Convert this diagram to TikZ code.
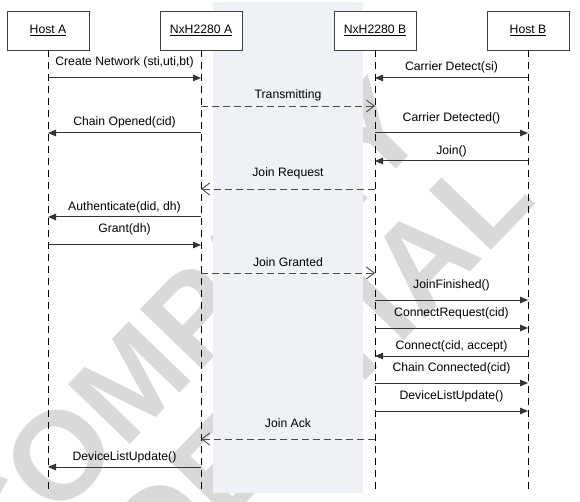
\documentclass[tikz,border=0pt]{standalone}
\usepackage{fontspec}
\setmainfont{Liberation Sans}
\usetikzlibrary{arrows.meta,positioning}
\definecolor{bandblue}{RGB}{238,241,246}
\definecolor{wmgray}{RGB}{217,217,217}

\begin{document}
\begin{tikzpicture}[x=1pt,y=-1pt,
  actor/.style={draw=black!75,line width=0.8pt,fill=white,minimum width=82pt,minimum height=39pt,inner sep=0pt,font=\fontsize{12.2}{14}\selectfont},
  life/.style={black,line width=0.8pt,dash pattern=on 7pt off 5pt},
  call/.style={black!80,line width=1pt,-{Triangle[length=8pt,width=6.5pt]}},
  air/.style={black!70,line width=0.9pt,dash pattern=on 7pt off 4pt,-{Straight Barb[length=8pt,width=12pt]}},
  lbl/.style={font=\fontsize{12.2}{14}\selectfont,inner sep=0pt},
  wmark/.style={wmgray,font=\fontsize{125}{125}\selectfont\bfseries,rotate=46,inner sep=0pt}]
\useasboundingbox (0,0) rectangle (580,502);

% watermark, then the air band on top of it
\node[wmark] (wm1) at (182,329) {COMPANY};
\node[wmark] (wm2) at (184,506) {CONFIDENTIAL};
\fill[bandblue] (213,2) rectangle (363,493);

% actors and lifelines
\node[actor] (hA) at (48,30.5) {\underline{Host A}};
\node[actor] (nA) at (201,30.5) {\underline{NxH2280 A}};
\node[actor] (nB) at (375,30.5) {\underline{NxH2280 B}};
\node[actor] (hB) at (528,30.5) {\underline{Host B}};

\draw[life] (hA.south) -- (hA |- 0,493);
\draw[life] (nA.south) -- (nA |- 0,493);
\draw[life] (nB.south) -- (nB |- 0,493);
\draw[life] (hB.south) -- (hB |- 0,493);

% messages
\node[lbl] (m1) at (124.5,62) {Create Network (sti,uti,bt)};
\draw[call] (hA |- 0,78) -- (nA |- 0,78);

\node[lbl] (m2) at (451.5,67) {Carrier Detect(si)};
\draw[call] (hB |- 0,78) -- (nB |- 0,78);

\node[lbl] (m3) at (288,95) {Transmitting};
\draw[air] (nA |- 0,106) -- (nB |- 0,106);

\node[lbl] (m4) at (124.5,122) {Chain Opened(cid)};
\draw[call] (nA |- 0,133) -- (hA |- 0,133);

\node[lbl] (m5) at (451.5,118) {Carrier Detected()};
\draw[call] (nB |- 0,133) -- (hB |- 0,133);

\node[lbl] (m6) at (451.5,151) {Join()};
\draw[call] (hB |- 0,161) -- (nB |- 0,161);

\node[lbl] (m7) at (288,173) {Join Request};
\draw[air] (nB |- 0,189) -- (nA |- 0,189);

\node[lbl] (m8) at (124.5,207) {Authenticate(did, dh)};
\draw[call] (nA |- 0,217) -- (hA |- 0,217);

\node[lbl] (m9) at (124.5,229) {Grant(dh)};
\draw[call] (hA |- 0,245) -- (nA |- 0,245);

\node[lbl] (m10) at (288,262) {Join Granted};
\draw[air] (nA |- 0,273) -- (nB |- 0,273);

\node[lbl] (m11) at (451.5,285) {JoinFinished()};
\draw[call] (nB |- 0,300) -- (hB |- 0,300);

\node[lbl] (m12) at (451.5,313) {ConnectRequest(cid)};
\draw[call] (nB |- 0,328) -- (hB |- 0,328);

\node[lbl] (m13) at (451.5,346) {Connect(cid, accept)};
\draw[call] (hB |- 0,356) -- (nB |- 0,356);

\node[lbl] (m14) at (451.5,368) {Chain Connected(cid)};
\draw[call] (nB |- 0,383) -- (hB |- 0,383);

\node[lbl] (m15) at (451.5,396) {DeviceListUpdate()};
\draw[call] (nB |- 0,411) -- (hB |- 0,411);

\node[lbl] (m16) at (288,423) {Join Ack};
\draw[air] (nB |- 0,439) -- (nA |- 0,439);

\node[lbl] (m17) at (124.5,457) {DeviceListUpdate()};
\draw[call] (nA |- 0,467) -- (hA |- 0,467);

\end{tikzpicture}
\end{document}
